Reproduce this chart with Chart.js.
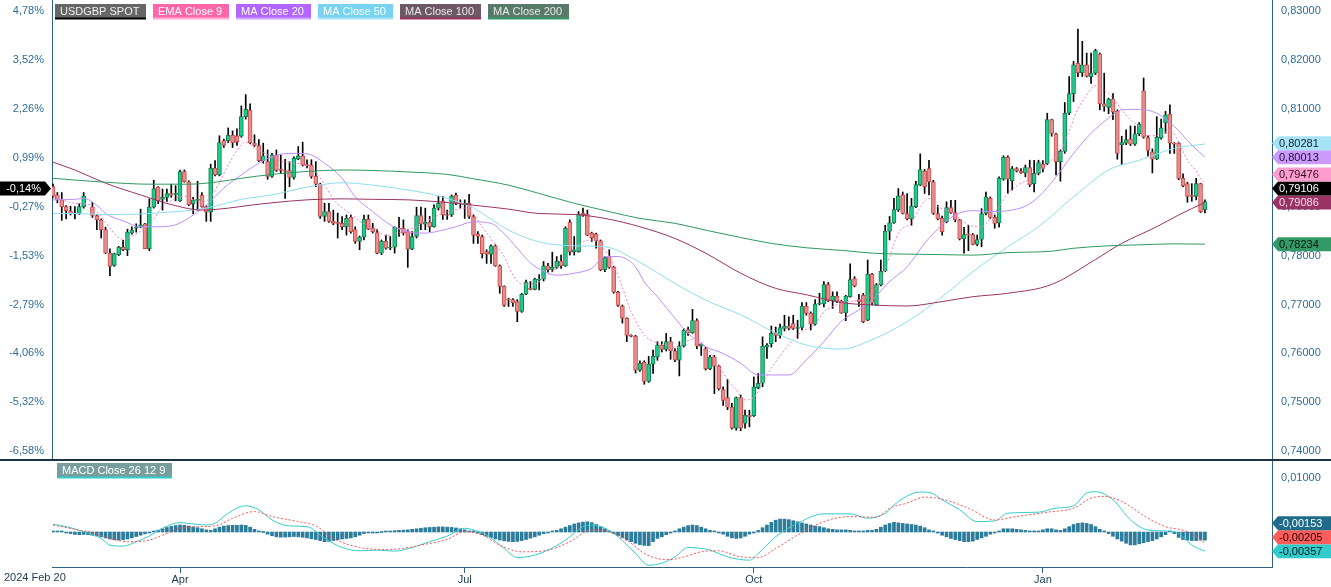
<!DOCTYPE html>
<html>
<head>
<meta charset="utf-8">
<script src="https://cdn.jsdelivr.net/npm/chart.js"></script>
<style>
  html, body { margin: 0; padding: 0; background: #fff; }
  #wrap { position: relative; width: 1331px; height: 587px; overflow: hidden; }
  #priceBox { position: absolute; left: 0; top: 0; width: 1331px; height: 459px; }
  #macdBox { position: absolute; left: 0; top: 459px; width: 1331px; height: 128px; }
</style>
</head>
<body>
<div id="wrap">
  <div id="priceBox"><canvas id="priceChart"></canvas></div>
  <div id="macdBox"><canvas id="macdChart"></canvas></div>
</div>
<script>
// daily USDGBP candles, prices in pips (1 pip = 0.0001), index 0 = 2024 Feb 20
const PIP = 0.0001;

const open = [
  7941,7924,7914,7900,7891,7886,7885,7900,null,7899,
  7882,7873,7853,7805,7780,7802,7817,7812,7846,7856,
  7858,7865,7814,7899,7940,7915,7919,7927,7925,7912,
  7972,7951,7906,7913,7923,7900,7889,7979,7965,8035,
  8035,8046,8045,8044,8084,8097,8030,8025,7994,7992,
  7962,8005,7977,7974,7974,7960,7997,8004,7985,7985,
  7962,7946,7880,7890,7870,7867,7866,7859,7878,7853,
  7829,7838,7874,7856,7847,7805,7829,7815,7817,7855,
  7856,7849,7813,7839,7882,7864,7868,7859,7897,7912,
  7883,7883,7923,7907,7904,7907,7880,7844,7839,7808,
  7803,7820,7779,7737,7710,7710,7706,7686,7721,7733,
  7731,7750,7752,7779,7772,7776,7789,7779,7868,7808,
  7808,7887,7885,7846,7844,7830,7771,7798,7776,7725,
  7697,7672,7637,7635,7566,7582,7543,7578,7593,7617,
  7608,7624,7605,7586,7615,7649,7642,7667,7615,7610,
  7569,7593,7574,7526,7510,7490,7447,7510,7457,7474,
  7473,7530,7539,7613,7620,7642,7637,7651,7656,7661,
  7651,7653,7697,7682,7660,7701,7701,7741,7708,7717,
  7707,7683,7716,7753,7710,7719,7668,7762,7699,7740,
  7768,7850,7867,7894,7924,7886,7875,7900,7944,7973,
  7978,7951,7886,7876,7869,7898,7888,7873,7834,7843,
  7843,7823,7833,7886,7917,7878,7867,7956,8001,7953,
  7978,7973,7969,7980,7947,7968,7987,7988,8078,8049,
  7992,8013,8091,8131,8193,8174,8190,8166,8173,8212,
  8110,8103,8120,8095,8027,8030,8038,8028,8049,8137,
  8041,8012,7997,8040,8071,8089,8030,8030,7958,7947,
  7922,7921,7947,7894
];
const high = [
  7946,7929,7929,7902,7901,7900,7906,7929,null,7909,
  7884,7875,7858,7814,7805,7819,7831,7854,7859,7865,
  7895,7866,7916,7954,7941,7936,7936,7946,7943,7975,
  7975,7953,7919,7952,7929,7902,7987,7994,8045,8038,
  8061,8055,8059,8106,8129,8110,8047,8037,8030,8016,
  8009,8016,8006,7997,7992,8002,8023,8032,7996,7996,
  7992,7948,7907,7907,7893,7887,7880,7883,7883,7859,
  7840,7883,7883,7866,7853,7832,7842,7839,7859,7878,
  7873,7853,7849,7899,7899,7897,7880,7904,7921,7921,
  7893,7924,7928,7914,7914,7925,7883,7849,7842,7812,
  7822,7822,7781,7738,7713,7712,7710,7723,7750,7747,
  7754,7761,7788,7784,7807,7798,7801,7859,7873,7839,
  7890,7897,7893,7848,7846,7832,7798,7812,7778,7727,
  7699,7673,7638,7637,7585,7585,7594,7607,7624,7624,
  7641,7633,7610,7624,7651,7654,7690,7671,7620,7613,
  7596,7596,7576,7532,7547,7498,7511,7515,7484,7484,
  7552,7559,7634,7620,7656,7654,7660,7678,7675,7678,
  7668,7704,7704,7685,7710,7723,7747,7745,7726,7726,
  7709,7719,7783,7757,7721,7723,7791,7764,7743,7791,
  7862,7880,7917,7937,7930,7927,7917,7952,8008,7976,
  7995,7954,7903,7881,7910,7913,7913,7874,7858,7862,
  7845,7842,7896,7930,7920,7883,7961,8004,8004,7982,
  7980,7978,7985,7995,7995,7995,7994,8091,8079,8050,
  8016,8113,8166,8197,8263,8238,8214,8214,8222,8214,
  8173,8122,8131,8098,8044,8057,8065,8065,8072,8163,
  8045,8018,8084,8079,8095,8108,8031,8031,7967,7950,
  7947,7958,7948,7914
];
const low = [
  7918,7908,7872,7875,7883,7875,7884,7897,null,7878,
  7853,7836,7804,7759,7778,7800,7810,7800,7844,7848,
  7857,7814,7810,7897,7906,7893,7911,7919,7912,7911,
  7950,7902,7885,7893,7899,7870,7870,7963,7963,8021,
  8031,8021,8025,8042,8079,8029,8023,7992,7989,7956,
  7960,7972,7968,7917,7941,7956,7996,7983,7979,7958,
  7941,7876,7870,7868,7863,7836,7853,7842,7846,7825,
  7812,7832,7853,7846,7804,7802,7813,7812,7805,7839,
  7842,7776,7812,7836,7853,7853,7849,7858,7893,7874,
  7874,7880,7904,7897,7876,7876,7825,7825,7795,7784,
  7784,7778,7723,7696,7696,7696,7665,7684,7720,7730,
  7730,7730,7748,7766,7767,7774,7774,7778,7801,7801,
  7807,7880,7841,7829,7815,7769,7767,7774,7723,7696,
  7662,7624,7634,7560,7563,7537,7541,7559,7586,7603,
  7605,7588,7583,7554,7613,7637,7641,7610,7596,7566,
  7567,7518,7525,7494,7485,7445,7443,7442,7447,7450,
  7471,7528,7532,7590,7613,7624,7631,7646,7648,7649,
  7631,7648,7678,7648,7658,7699,7695,7706,7692,7704,
  7682,7667,7715,7736,7696,7663,7667,7699,7698,7738,
  7767,7832,7866,7890,7885,7873,7862,7898,7943,7927,
  7924,7884,7873,7842,7867,7886,7869,7832,7805,7810,
  7822,7820,7818,7883,7876,7856,7858,7954,7927,7934,
  7971,7968,7961,7941,7930,7965,7971,7986,8044,7965,
  7952,8009,8088,8115,8166,8166,8165,8152,8170,8098,
  8095,8090,8078,7997,7986,8027,8025,8025,8045,8040,
  8003,7969,7996,8038,8050,8009,8009,7955,7941,7909,
  7911,7914,7888,7887
];
const close = [
  7921.3,7914,7900,7892,7885,7885,7900,7922,null,7882,
  7873,7853,7805,7778,7804,7817,7812,7848,7852,7858,
  7863,7814,7899,7937,7912,7919,7927,7923,7925,7972,
  7951,7904,7914,7914,7900,7889,7979,7965,8031,8025,
  8046,8031,8033,8084,8099,8031,8025,7994,8004,7962,
  8006,7974,7974,7972,7960,7999,8004,7985,7984,7962,
  7946,7880,7890,7870,7866,7866,7859,7876,7849,7829,
  7838,7874,7854,7849,7805,7829,7815,7816,7858,7854,
  7846,7813,7839,7882,7865,7868,7859,7897,7907,7883,
  7882,7921,7907,7906,7907,7880,7842,7839,7804,7803,
  7820,7779,7737,7698,7709,7704,7686,7721,7746,7731,
  7752,7752,7779,7771,7776,7789,7779,7856,7808,7812,
  7885,7883,7842,7836,7830,7771,7796,7776,7725,7698,
  7672,7637,7635,7566,7580,7543,7578,7594,7617,7608,
  7624,7605,7586,7615,7648,7642,7667,7615,7619,7569,
  7593,7574,7528,7504,7490,7447,7510,7447,7474,7471,
  7532,7539,7615,7617,7641,7637,7653,7656,7651,7651,
  7653,7697,7682,7660,7701,7702,7741,7708,7717,7707,
  7683,7717,7751,7738,7706,7665,7762,7703,7740,7768,
  7850,7867,7894,7922,7886,7875,7901,7945,7976,7941,
  7951,7886,7875,7849,7898,7888,7873,7834,7843,7842,
  7823,7833,7886,7920,7878,7866,7958,8001,7956,7978,
  7973,7969,7980,7945,7968,7990,7978,8078,8050,7992,
  8013,8091,8131,8190,8174,8190,8167,8173,8219,8110,
  8105,8120,8093,8009,8031,8037,8028,8049,8069,8042,
  8015,7997,8042,8061,8088,8030,8028,7958,7943,7921,
  7921,7947,7890,7910.6
];

// moving averages: [candle index, pips]
const ema9Pts = [[0,7920],[2,7914],[5,7907],[8,7905],[10,7890],[12,7869],[14,7845],[16,7833],[18,7840],[21,7856],
  [23,7875],[25,7900],[27,7912],[30,7922],[32,7914],[34,7908],[36,7920],[38,7950],[40,7985],[42,8015],
  [44,8032],[46,8020],[49,8006],[52,7994],[55,7989],[58,7985],[60,7970],[62,7945],[64,7915],[66,7898],
  [68,7885],[70,7870],[72,7862],[74,7852],[76,7841],[78,7845],[81,7852],[83,7859],[85,7869],[88,7883],
  [91,7891],[94,7897],[96,7885],[98,7858],[100,7835],[103,7798],[105,7760],[107,7742],[110,7742],[112,7754],
  [114,7768],[116,7781],[119,7811],[121,7828],[123,7832],[126,7811],[128,7781],[130,7735],[132,7685],[135,7638],
  [138,7621],[140,7617],[142,7611],[145,7626],[147,7630],[149,7614],[151,7590],[154,7546],[156,7525],[158,7505],
  [160,7510],[162,7539],[164,7570],[167,7607],[169,7628],[171,7645],[174,7660],[176,7685],[178,7696],[181,7705],
  [184,7709],[186,7716],[189,7750],[191,7798],[193,7846],[196,7868],[198,7900],[200,7917],[202,7900],[205,7890],
  [207,7876],[209,7863],[212,7859],[214,7876],[216,7900],[218,7927],[221,7948],[223,7956],[225,7971],[228,7995],
  [230,8010],[232,8055],[234,8100],[236,8128],[238,8148],[239,8142],[241,8132],[244,8098],[246,8077],[248,8064],
  [250,8045],[253,8047],[255,8057],[257,8032],[259,7995],[261,7973],[262,7957],[263,7947.6]];
const ma20Pts = [[0,7914],[5,7915],[7,7917],[10,7903],[12,7886],[16,7871],[20,7859],[24,7859],[28,7863],[31,7877],
  [35,7903],[39,7938],[43,7965],[47,7989],[50,8002],[54,8009],[58,8008],[62,7989],[66,7958],[69,7920],
  [73,7890],[77,7863],[81,7849],[85,7846],[88,7850],[92,7859],[96,7869],[100,7866],[103,7845],[106,7815],
  [109,7785],[112,7768],[115,7760],[119,7764],[123,7774],[126,7798],[129,7798],[133,7777],[135,7746],[138,7716],
  [142,7672],[145,7641],[149,7614],[153,7600],[157,7580],[161,7556],[164,7556],[168,7556],[172,7587],[176,7624],
  [180,7666],[184,7689],[187,7709],[191,7747],[195,7777],[199,7825],[203,7863],[206,7883],[210,7892],[214,7890],
  [218,7892],[222,7901],[225,7920],[229,7961],[233,8009],[237,8050],[241,8081],[244,8098],[248,8099],[252,8091],
  [256,8064],[260,8026],[263,8001.3]];
const ma50Pts = [[0,7886],[5,7886],[12,7884],[20,7885],[28,7890],[35,7897],[43,7915],[50,7924],[58,7940],[66,7949],
  [73,7944],[81,7934],[88,7922],[96,7897],[104,7852],[111,7828],[119,7820],[126,7818],[134,7786],[142,7743],
  [149,7709],[157,7679],[165,7642],[172,7617],[180,7609],[187,7628],[195,7665],[203,7716],[210,7767],[218,7818],
  [225,7859],[233,7920],[241,7975],[248,7995],[256,8019],[263,8028.1]];
const ma100Pts = [[0,7991],[5,7975],[12,7948],[20,7924],[28,7902],[34,7893],[40,7897],[45,7903],[50,7908],[58,7914],
  [66,7916],[73,7915],[81,7914],[88,7910],[96,7903],[104,7895],[111,7886],[119,7884],[126,7876],[134,7859],
  [142,7835],[149,7805],[157,7764],[165,7733],[172,7720],[180,7704],[187,7699],[195,7697],[203,7706],[210,7716],
  [218,7723],[228,7741],[238,7792],[244,7825],[252,7859],[257,7883],[263,7908.6]];
const ma200Pts = [[0,7958],[12,7950],[22,7946],[31,7946],[37,7950],[43,7958],[50,7966],[58,7972],[66,7975],[73,7974],
  [81,7971],[90,7966],[96,7957],[104,7944],[111,7927],[119,7907],[127,7890],[134,7876],[142,7866],[149,7852],
  [157,7837],[164,7825],[172,7816],[181,7810],[187,7805],[195,7803],[203,7802],[210,7801],[218,7806],[228,7809],
  [233,7815],[241,7820],[248,7822],[256,7824],[263,7823.4]];

// MACD 26 12 9: [candle index, value]
const macdPts = [[0,0.00144],[3,0.00100],[7,0.00006],[11,-0.00119],[13,-0.00244],[16,-0.00263],[19,-0.00181],[22,-0.00075],
  [25,0.00069],[29,0.00175],[32,0.00150],[35,0.00131],[37,0.00163],[40,0.00350],[44,0.00488],[47,0.00413],
  [50,0.00225],[54,0.00113],[58,0.00100],[62,-0.00119],[66,-0.00288],[70,-0.00350],[74,-0.00338],[78,-0.00356],
  [82,-0.00288],[86,-0.00181],[90,-0.00075],[94,0.00069],[96,0.00038],[99,-0.00056],[103,-0.00306],[106,-0.00475],
  [109,-0.00450],[113,-0.00338],[117,-0.00150],[121,0.00100],[123,0.00131],[126,0.00069],[129,-0.00088],[133,-0.00400],
  [136,-0.00619],[139,-0.00580],[142,-0.00463],[145,-0.00288],[150,-0.00338],[154,-0.00463],[159,-0.00525],[161,-0.00400],
  [165,-0.00088],[170,0.00163],[176,0.00338],[182,0.00338],[186,0.00256],[190,0.00350],[193,0.00569],[198,0.00744],
  [200,0.00738],[203,0.00600],[207,0.00413],[211,0.00194],[215,0.00206],[218,0.00350],[225,0.00369],[229,0.00444],
  [233,0.00488],[236,0.00725],[238,0.00750],[242,0.00600],[246,0.00225],[250,0.00038],[254,0.00019],[257,-0.00025],
  [260,-0.00244],[263,-0.00357]];
const signalPts = [[0,0.00131],[5,0.00050],[9,-0.00013],[13,-0.00119],[17,-0.00181],[22,-0.00150],[26,-0.00025],[29,0.00069],
  [33,0.00100],[37,0.00113],[41,0.00256],[46,0.00381],[50,0.00288],[56,0.00194],[60,0.00113],[64,-0.00119],
  [70,-0.00288],[76,-0.00325],[80,-0.00306],[84,-0.00244],[90,-0.00138],[94,0.00006],[98,-0.00056],[102,-0.00244],
  [107,-0.00369],[113,-0.00338],[118,-0.00181],[123,0.00038],[127,0.00006],[131,-0.00150],[135,-0.00400],[138,-0.00494],
  [141,-0.00513],[144,-0.00463],[148,-0.00369],[152,-0.00350],[157,-0.00463],[161,-0.00475],[165,-0.00306],[170,-0.00056],
  [176,0.00194],[182,0.00288],[188,0.00275],[191,0.00444],[195,0.00538],[199,0.00650],[203,0.00613],[209,0.00444],
  [215,0.00225],[220,0.00288],[227,0.00369],[233,0.00444],[237,0.00631],[240,0.00663],[244,0.00569],[250,0.00256],
  [254,0.00100],[259,0.00006],[263,-0.00205]];
const macdHist = [
  0.00010,0.00008,0.00004,-0.00010,-0.00030,-0.00045,-0.00050,-0.00045,-0.00050,-0.00060,
  -0.00075,-0.00090,-0.00110,-0.00130,-0.00145,-0.00150,-0.00145,-0.00130,-0.00110,-0.00085,
  -0.00060,-0.00035,-0.00010,0.00010,0.00035,0.00060,0.00085,0.00105,0.00120,0.00130,
  0.00125,0.00110,0.00095,0.00080,0.00060,0.00040,0.00030,0.00060,0.00090,0.00110,
  0.00120,0.00125,0.00125,0.00130,0.00125,0.00090,0.00050,0.00020,0.00000,-0.00040,
  -0.00070,-0.00090,-0.00095,-0.00095,-0.00090,-0.00085,-0.00090,-0.00100,-0.00110,-0.00125,
  -0.00140,-0.00160,-0.00180,-0.00175,-0.00160,-0.00145,-0.00130,-0.00120,-0.00110,-0.00090,
  -0.00060,-0.00030,-0.00015,-0.00005,-0.00010,0.00000,0.00005,0.00015,0.00025,0.00030,
  0.00035,0.00040,0.00050,0.00060,0.00070,0.00080,0.00085,0.00090,0.00095,0.00095,
  0.00090,0.00085,0.00075,0.00060,0.00040,0.00020,0.00010,-0.00020,-0.00050,-0.00080,
  -0.00105,-0.00130,-0.00150,-0.00165,-0.00175,-0.00180,-0.00175,-0.00160,-0.00140,-0.00115,
  -0.00090,-0.00060,-0.00030,-0.00010,0.00010,0.00030,0.00060,0.00090,0.00120,0.00150,
  0.00170,0.00185,0.00190,0.00175,0.00140,0.00100,0.00060,0.00020,-0.00030,-0.00070,
  -0.00110,-0.00150,-0.00180,-0.00210,-0.00235,-0.00250,-0.00255,-0.00180,-0.00120,-0.00090,
  -0.00050,-0.00020,0.00020,0.00060,0.00090,0.00120,0.00130,0.00120,0.00090,0.00060,
  0.00030,0.00020,-0.00010,-0.00040,-0.00080,-0.00110,-0.00120,-0.00110,-0.00080,-0.00040,
  -0.00010,0.00030,0.00080,0.00130,0.00180,0.00220,0.00240,0.00240,0.00230,0.00210,
  0.00190,0.00170,0.00150,0.00130,0.00110,0.00100,0.00080,0.00060,0.00050,0.00040,
  0.00040,0.00040,0.00030,0.00020,0.00020,0.00020,0.00030,0.00030,0.00050,0.00090,
  0.00130,0.00160,0.00180,0.00170,0.00160,0.00150,0.00140,0.00130,0.00110,0.00080,
  0.00040,0.00020,-0.00020,-0.00060,-0.00090,-0.00120,-0.00140,-0.00160,-0.00180,-0.00180,
  -0.00170,-0.00140,-0.00110,-0.00080,-0.00040,-0.00010,0.00020,0.00060,0.00060,0.00060,
  0.00050,0.00040,0.00030,0.00020,0.00020,0.00020,0.00040,0.00060,0.00060,0.00040,
  0.00030,0.00060,0.00100,0.00140,0.00160,0.00170,0.00160,0.00140,0.00100,0.00050,
  0.00010,-0.00030,-0.00080,-0.00130,-0.00170,-0.00210,-0.00240,-0.00240,-0.00220,-0.00200,
  -0.00180,-0.00160,-0.00130,-0.00090,-0.00050,0.00020,-0.00030,-0.00100,-0.00140,-0.00150,
  -0.00160,-0.00160,-0.00150,-0.00153
];

const priceTicks = [0.74, 0.75, 0.76, 0.77, 0.78, 0.79, 0.80, 0.81, 0.82, 0.83];
const macdTicks = [0.01];
const dateTicks = [0, 29, 94, 160, 226];
const dateLabels = ['2024 Feb 20', 'Apr', 'Jul', 'Oct', 'Jan'];

// ---- styling ----
const FONT = '"Liberation Sans", Arial, sans-serif';
const AXIS = '#2d6283';
const TICK_TXT = '#2f6d9c';
const DATE_TXT = '#1b3954';
const UP_FILL = '#1fcc8c', UP_EDGE = '#14804f';
const DOWN_FILL = '#e88d8d', DOWN_EDGE = '#cc4d4d';

const X_MIN = -0.228, X_MAX = 278.31;

const fmtPrice = v => v.toFixed(5).replace('.', ',');
const fmtPct = v => ((v / (close[0] * PIP) - 1) * 100).toFixed(2).replace('.', ',') + '%';

const legendItems = [
  { text: 'USDGBP SPOT', bg: '#666666', fg: '#f2f2f2', line: '#000000' },
  { text: 'EMA Close 9', bg: '#ff66aa', fg: '#ffffff', line: '#ffaad2' },
  { text: 'MA Close 20', bg: '#b266ff', fg: '#ffffff', line: '#cfa3ff' },
  { text: 'MA Close 50', bg: '#77d3f0', fg: '#ffffff', line: '#a6e3f7' },
  { text: 'MA Close 100', bg: '#6e5865', fg: '#e8e8e8', line: '#993366' },
  { text: 'MA Close 200', bg: '#587a6a', fg: '#e8e8e8', line: '#339966' }
];

const priceTags = [
  { value: ma50Pts.at(-1)[1] * PIP, bg: '#a6e3f7', fg: '#10202a' },
  { value: ma20Pts.at(-1)[1] * PIP, bg: '#cc99ff', fg: '#1a1026' },
  { value: ema9Pts.at(-1)[1] * PIP, bg: '#ff9ccf', fg: '#2a1020' },
  { value: close.at(-1) * PIP, bg: '#000000', fg: '#ffffff', pct: true },
  { value: ma100Pts.at(-1)[1] * PIP, bg: '#993366', fg: '#f5dbe8' },
  { value: ma200Pts.at(-1)[1] * PIP, bg: '#339966', fg: '#06170e' }
];
const macdTags = [
  { value: macdHist.at(-1), bg: '#1f6b8a', fg: '#ffffff' },
  { value: signalPts.at(-1)[1], bg: '#ff5c5c', fg: '#1a0505' },
  { value: macdPts.at(-1)[1], bg: '#33cccc', fg: '#041a1a' }
];

function drawTag(ctx, x0, x1, y, bg, fg, text, pointLeft) {
  ctx.save();
  ctx.fillStyle = bg;
  ctx.beginPath();
  if (pointLeft) {
    ctx.moveTo(x0, y); ctx.lineTo(x0 + 6, y - 7); ctx.lineTo(x1, y - 7);
    ctx.lineTo(x1, y + 7); ctx.lineTo(x0 + 6, y + 7);
  } else {
    ctx.moveTo(x1, y); ctx.lineTo(x1 - 6, y - 7); ctx.lineTo(x0, y - 7);
    ctx.lineTo(x0, y + 7); ctx.lineTo(x1 - 6, y + 7);
  }
  ctx.closePath();
  ctx.fill();
  ctx.fillStyle = fg;
  ctx.font = '11px ' + FONT;
  ctx.textBaseline = 'middle';
  if (pointLeft) {
    ctx.textAlign = 'left';
    ctx.fillText(text, x0 + 7, y + 0.5);
  } else {
    ctx.textAlign = 'right';
    ctx.fillText(text, x1 - 10, y + 0.5);
  }
  ctx.restore();
}

// place tags bottom-up so they never overlap
function stackTags(tags, scale) {
  const placed = tags.map(t => Object.assign({}, t, { y: scale.getPixelForValue(t.value) }))
    .sort((a, b) => b.y - a.y);
  let prev = Infinity;
  placed.forEach(t => { t.y = Math.min(t.y, prev - 14); prev = t.y; });
  return placed;
}

const priceOverlay = {
  id: 'priceOverlay',
  afterDraw(chart) {
    const { ctx, chartArea, scales } = chart;
    ctx.save();
    ctx.font = '11px ' + FONT;
    ctx.textBaseline = 'middle';
    ctx.textAlign = 'left';
    let x = 55;
    legendItems.forEach(it => {
      const w = Math.round(ctx.measureText(it.text).width) + 12;
      ctx.fillStyle = it.bg;
      ctx.fillRect(x, 4, w, 14);
      ctx.fillStyle = it.line;
      ctx.fillRect(x, 17.5, w, 2);
      ctx.fillStyle = it.fg;
      ctx.fillText(it.text, x + 5, 11.5);
      x += w + 7;
    });
    ctx.restore();
    stackTags(priceTags, scales.y).forEach(t => {
      drawTag(ctx, chartArea.right, chart.width, t.y, t.bg, t.fg, fmtPrice(t.value), true);
      if (t.pct) drawTag(ctx, 0, chartArea.left - 1, t.y, t.bg, t.fg, fmtPct(t.value), false);
    });
  }
};

const macdOverlay = {
  id: 'macdOverlay',
  afterDraw(chart) {
    const { ctx, chartArea, scales } = chart;
    ctx.save();
    ctx.fillStyle = '#1b3345';
    ctx.fillRect(0, 0, chart.width, 2);
    ctx.font = '11px ' + FONT;
    ctx.textBaseline = 'middle';
    ctx.textAlign = 'left';
    const label = 'MACD Close 26 12 9';
    const w = Math.round(ctx.measureText(label).width) + 12;
    ctx.fillStyle = '#779d9d';
    ctx.fillRect(57, 4, w, 14);
    ctx.fillStyle = '#33cccc';
    ctx.fillRect(57, 17.5, w, 2);
    ctx.fillStyle = '#ffffff';
    ctx.fillText(label, 62, 11.5);
    ctx.fillStyle = DATE_TXT;
    ctx.fillText(dateLabels[0], 4, 119);
    ctx.restore();
    stackTags(macdTags, scales.y).forEach(t =>
      drawTag(ctx, chartArea.right, chart.width, t.y, t.bg, t.fg, fmtPrice(t.value), true));
  }
};

// ---- datasets ----
const candleIdx = [];
open.forEach((o, i) => { if (o !== null) candleIdx.push(i); });
const isUp = ctx => !ctx.raw || ctx.raw.y[1] >= ctx.raw.y[0];

const maLine = (pts, color, dash) => ({
  type: 'line',
  data: pts.map(p => ({ x: p[0], y: p[1] * PIP })),
  borderColor: color,
  borderWidth: 1,
  borderDash: dash || [],
  pointRadius: 0,
  cubicInterpolationMode: 'monotone',
  order: 1
});

const tickFont = { family: FONT, size: 11 };

new Chart(document.getElementById('priceChart'), {
  type: 'bar',
  data: {
    datasets: [
      maLine(ma200Pts, '#2e9960'),
      maLine(ma100Pts, '#993366'),
      maLine(ma50Pts, '#8fdcf2'),
      maLine(ma20Pts, '#bf8cff'),
      maLine(ema9Pts, '#ff7fbf', [2, 2]),
      {
        type: 'bar',
        data: candleIdx.map(i => ({ x: i, y: [open[i] * PIP, close[i] * PIP] })),
        backgroundColor: ctx => isUp(ctx) ? UP_FILL : DOWN_FILL,
        borderColor: ctx => isUp(ctx) ? UP_EDGE : DOWN_EDGE,
        borderWidth: 1,
        borderSkipped: false,
        barThickness: 4,
        minBarLength: 1,
        grouped: false,
        order: 2
      },
      {
        type: 'bar',
        data: candleIdx.map(i => ({ x: i, y: [low[i] * PIP, high[i] * PIP] })),
        backgroundColor: '#000000',
        borderWidth: 0,
        barThickness: 1,
        grouped: false,
        order: 3
      }
    ]
  },
  options: {
    responsive: true,
    maintainAspectRatio: false,
    animation: false,
    events: [],
    layout: { padding: 0 },
    plugins: { legend: { display: false }, tooltip: { enabled: false } },
    scales: {
      x: { type: 'linear', min: X_MIN, max: X_MAX, offset: false, display: false },
      y: {
        position: 'right',
        min: 0.738422,
        max: 0.832249,
        grid: { display: false, drawTicks: false },
        border: { display: true, color: AXIS },
        ticks: { padding: 9, color: TICK_TXT, font: tickFont, callback: v => fmtPrice(v) },
        afterBuildTicks: s => { s.ticks = priceTicks.map(v => ({ value: v })); },
        afterFit: s => { s.width = 59; s.paddingTop = 0; s.paddingBottom = 0; }
      },
      yp: {
        position: 'left',
        min: 0.738422,
        max: 0.832249,
        grid: { display: false, drawTicks: false },
        border: { display: true, color: AXIS },
        ticks: { padding: 8, color: TICK_TXT, font: tickFont, callback: v => fmtPct(v) },
        afterBuildTicks: s => { s.ticks = priceTicks.map(v => ({ value: v })); },
        afterFit: s => { s.width = 52; s.paddingTop = 0; s.paddingBottom = 0; }
      }
    }
  },
  plugins: [priceOverlay]
});

new Chart(document.getElementById('macdChart'), {
  type: 'bar',
  data: {
    datasets: [
      {
        type: 'line',
        data: signalPts.map(p => ({ x: p[0], y: p[1] })),
        borderColor: '#ff4f4f',
        borderWidth: 1,
        borderDash: [2, 2],
        pointRadius: 0,
        cubicInterpolationMode: 'monotone',
        order: 0
      },
      {
        type: 'line',
        data: macdPts.map(p => ({ x: p[0], y: p[1] })),
        borderColor: '#33cccc',
        borderWidth: 1,
        pointRadius: 0,
        cubicInterpolationMode: 'monotone',
        order: 1
      },
      {
        type: 'bar',
        data: macdHist.map((v, i) => ({ x: i, y: v })),
        backgroundColor: '#2c7d9c',
        barThickness: 3,
        minBarLength: 1,
        grouped: false,
        order: 2
      }
    ]
  },
  options: {
    responsive: true,
    maintainAspectRatio: false,
    animation: false,
    events: [],
    layout: { padding: { left: 52, top: 2, right: 0, bottom: 0 } },
    plugins: { legend: { display: false }, tooltip: { enabled: false } },
    scales: {
      x: {
        type: 'linear',
        min: X_MIN,
        max: X_MAX,
        offset: false,
        grid: { display: true, offset: false, drawOnChartArea: false, drawTicks: true, tickLength: 6, color: AXIS },
        border: { display: true, color: AXIS },
        ticks: {
          padding: 0, color: DATE_TXT, font: tickFont, maxRotation: 0, autoSkip: false,
          callback: v => dateLabels[dateTicks.indexOf(v)]
        },
        afterBuildTicks: s => { s.ticks = dateTicks.slice(1).map(v => ({ value: v })); },
        afterFit: s => { s.height = 20; s.paddingLeft = 0; s.paddingRight = 0; }
      },
      y: {
        position: 'right',
        min: -0.006518,
        max: 0.013222,
        grid: { display: false, drawTicks: false },
        border: { display: true, color: AXIS },
        ticks: { padding: 9, color: TICK_TXT, font: tickFont, callback: v => fmtPrice(v) },
        afterBuildTicks: s => { s.ticks = macdTicks.map(v => ({ value: v })); },
        afterFit: s => { s.width = 59; s.paddingTop = 0; s.paddingBottom = 0; }
      }
    }
  },
  plugins: [macdOverlay]
});
</script>
</body>
</html>
